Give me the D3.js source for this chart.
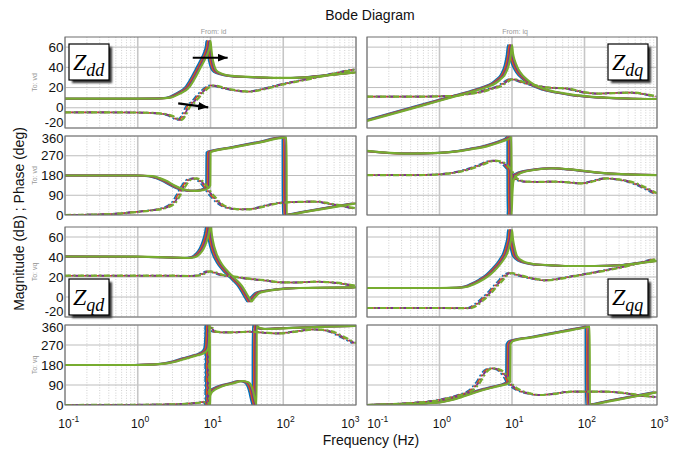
<!DOCTYPE html>
<html>
<head>
<meta charset="utf-8">
<script src="https://cdn.jsdelivr.net/npm/d3@7"></script>
<style>
  body { margin: 0; background: #fff; }
  svg { display: block; font-family: "Liberation Sans", Arial, Helvetica, sans-serif; }
</style>
</head>
<body>
<div id="vis"></div>
<script>
const FRAME_WIDTH = 681;
const FRAME_HEIGHT = 450;

// plot boxes (2 columns x 4 rows)
const COLS = [{left: 65, right: 356}, {left: 367, right: 657}];
const ROWS = [{top: 37, bottom: 128}, {top: 136, bottom: 215},
              {top: 227, bottom: 317}, {top: 325, bottom: 405}];

// ticks
const freqTicks = [0.1, 1, 10, 100, 1000];
const freqExp = ["-1", "0", "1", "2", "3"];
const magTicks = [-20, 0, 20, 40, 60];
const phaseTicks = [0, 90, 180, 270, 360];
const MAG_DOMAIN = [-20, 70];
const PHASE_DOMAIN = [0, 360];

// 4 overlaid systems, resonance moves a bit
const lineColors = ["#0072BD", "#D95319", "#7E2F8E", "#77AC30"];
const colorShift = [0.88, 0.92, 0.96, 1.0];

const inputLabels = ["From: id", "From: iq"];
const outputLabels = ["To: vd", "To: vd", "To: vq", "To: vq"];

// [Hz, dB] or [Hz, deg]; A = solid, B = dash-dot
const zddMagA = [[0.1, 9], [0.5, 9], [1, 9], [2, 9.2], [2.8, 10], [3.8, 14], [5.2, 21], [6.2, 30],
  [7.1, 38], [8.0, 45], [8.8, 51], [9.4, 56], [9.8, 61], [10, 66], [10.2, 60], [10.6, 50],
  [11.2, 42], [12, 37], [14, 34], [20, 31.5], [50, 30], [100, 29.5], [200, 30], [400, 32], [1000, 35]];
const zddMagB = [[0.1, -4.5], [1, -4.7], [2, -5.5], [3, -8], [3.6, -11], [4.0, -12], [4.5, -8],
  [5.2, 1], [6.2, 6], [7.1, 11], [8.0, 15], [8.8, 18], [9.8, 20.5], [10.8, 22], [12, 21.8],
  [15, 20], [20, 18], [35, 16], [60, 19], [100, 23], [200, 27.5], [500, 33.5], [1000, 38]];
const zddPhA = [[0.1, 180], [1, 180], [1.6, 177], [2.0, 168], [2.5, 155], [3.1, 137], [3.8, 123],
  [4.7, 114], [6, 110], [7.1, 111], [8.3, 115], [9.3, 122], [9.9, 135], [10.0, 285], [10.3, 288],
  [20, 307], [50, 332], [111, 354], [111.3, 0], [200, 14], [500, 36], [1000, 53]];
const zddPhB = [[0.1, 0], [0.5, 5], [0.86, 12], [1.5, 20], [2.5, 33], [3.0, 45], [3.4, 61],
  [3.8, 88], [4.2, 114], [4.7, 140], [5.2, 158], [6.4, 167], [7.3, 160], [7.85, 152], [8.6, 138],
  [9.3, 124], [10.2, 103], [11.5, 83], [13.5, 58], [16.6, 38], [20, 30], [25, 26], [33, 26],
  [43, 30], [60, 42], [100, 56], [180, 60], [285, 61], [480, 50], [1000, 30]];

const zdqMagA = [[0.1, -13], [0.3, -3.5], [1, 7], [2, 13], [3, 16.5], [4.5, 20.5], [6, 24.5],
  [6.9, 28], [8, 33], [9, 42], [9.6, 52], [10, 62], [10.3, 54], [11, 46], [11.7, 41], [13, 35],
  [16.3, 27.7], [20, 23], [30.5, 17.7], [50, 14.5], [71, 12.7], [120, 11], [205, 10], [400, 9.2], [1000, 8.7]];
const zdqMagB = [[0.1, 11], [0.5, 11], [1, 11.3], [1.73, 12], [2.5, 13.5], [4.07, 16], [5.5, 19],
  [6.9, 21], [8.5, 25], [10.4, 28.5], [12, 27.5], [16.2, 24.3], [22, 22], [30, 20.3], [45, 19.5],
  [60, 19], [80, 17], [110, 15], [164, 14], [250, 14.5], [470, 15], [700, 13.5], [1000, 11]];
const zdqPhA = [[0.1, 292], [0.35, 280], [1, 283], [2, 292], [2.9, 301], [4.5, 313], [6.2, 327],
  [8, 340], [9.0, 347], [9.6, 355], [9.8, 360], [9.82, 0], [10.1, 90], [10.4, 150], [11, 172],
  [13, 190], [20, 205], [37, 213], [70, 207], [120, 198], [205, 190], [1000, 182]];
const zdqPhB = [[0.1, 182], [0.5, 182], [1, 185], [2, 198], [2.9, 213], [4, 230], [5, 243],
  [5.8, 248], [6.8, 245], [8.0, 236], [9.4, 213], [10.5, 190], [11.7, 167], [13.5, 157], [16, 152],
  [25, 151], [37, 152], [60, 149], [97, 144], [140, 155], [205, 167], [300, 162], [435, 152],
  [700, 125], [1000, 99]];

const zqdMagA = [[0.1, 40.5], [1, 40.3], [3, 39.5], [5, 39], [6.2, 40], [7.1, 43], [8, 48],
  [8.8, 55], [9.4, 62], [9.8, 70], [10, 78], [10.3, 66], [10.8, 56], [12, 44], [14, 34],
  [16.6, 27], [22.7, 17], [27, 11], [31, 4], [34, -1], [36.5, -4.5], [39, -2], [47, 4], [60, 6],
  [80, 7.3], [170, 9], [1000, 9.6]];
const zqdMagB = [[0.1, 21.3], [1, 21.3], [3, 21.3], [5, 21], [7, 21.5], [8.5, 23.5], [9.9, 25.6],
  [12, 24.5], [15, 22], [20.3, 20.6], [38, 18], [60, 16.5], [100, 14.6], [160, 14.5], [285, 15.3],
  [500, 14.5], [800, 12.5], [1000, 11.3]];
const zqdPhA = [[0.1, 180], [1, 180], [1.6, 182], [2.5, 187], [3.5, 197], [4.7, 210], [6.2, 221],
  [7.9, 232], [8.8, 242], [9.3, 255], [9.6, 300], [9.75, 355], [9.8, 360], [9.82, 0], [9.9, 40],
  [10.2, 52], [10.9, 63], [13, 78], [16, 89], [20.3, 97], [25, 106], [28, 108], [32, 104],
  [34.7, 97], [37, 80], [39, 55], [40.5, 30], [42, 10], [43, 0], [43.1, 360], [45, 352], [50, 345],
  [58, 342], [100, 345], [170, 348], [400, 353], [1000, 356]];
const zqdPhB = [[0.1, 0], [1, 1], [3, 3], [5, 6], [7, 10], [7.9, 12], [8.8, 14], [9.4, 8],
  [9.6, 0], [9.62, 360], [9.9, 352], [10.9, 345], [12, 330], [15, 327], [20.3, 327], [30, 329],
  [34.7, 330], [50, 327], [90, 322], [150, 330], [285, 340], [400, 336], [480, 330], [700, 305],
  [1000, 278]];

const zqqMagA = [[0.1, 9], [1, 9], [1.93, 9.3], [2.5, 10.5], [2.9, 12.3], [4, 17.5], [5, 22.3],
  [6.2, 29], [7.6, 37], [8.6, 44], [9.3, 52], [9.8, 60], [10, 67], [10.3, 58], [10.8, 50],
  [11.7, 41], [14, 36], [19.7, 33], [40, 31.5], [71, 31], [150, 31], [350, 32], [600, 34], [1000, 36]];
const zqqMagB = [[0.1, -11], [1, -11], [2.6, -11.2], [3.0, -10], [3.5, -7], [4.06, -3], [5, 3],
  [6.2, 10.6], [7.3, 16], [8.5, 21.3], [10, 24], [12, 22.5], [16.1, 20], [22, 18], [30.4, 16.6],
  [45, 18], [71, 20.6], [120, 23.5], [204, 26.6], [400, 31], [1000, 38]];
const zqqPhA = [[0.1, 0], [0.3, 3], [1.02, 12], [2, 35], [2.9, 53], [4.5, 72], [6.5, 85],
  [9.0, 98], [9.4, 105], [9.5, 270], [9.7, 278], [10.4, 288], [20, 305.5], [50, 330], [114, 352],
  [118, 353], [118.3, 0], [200, 14], [400, 32.6], [1000, 57]];
const zqqPhB = [[0.1, 0], [0.3, 6], [1.02, 22], [2, 45], [2.9, 67], [3.6, 100], [4.5, 150],
  [5.5, 165], [6.5, 162], [7.6, 150], [8.6, 128], [9.5, 105], [11, 82], [13, 67], [18, 52],
  [24.4, 45], [35, 48], [71, 60], [204, 60], [400, 52], [730, 40], [1000, 36]];

// arrows in Zdd magnitude (Hz, dB)
const arrowFrom = [[5.7, 49.5], [3.6, 4.4]];
const arrowTo = [[17.2, 49.5], [9.3, 0.4]];

const PANELS = [
  {row: 0, col: 0, kind: "mag", solid: zddMagA, dash: zddMagB, name: "dd", corner: "tl"},
  {row: 1, col: 0, kind: "phase", solid: zddPhA, dash: zddPhB},
  {row: 0, col: 1, kind: "mag", solid: zdqMagA, dash: zdqMagB, name: "dq", corner: "tr"},
  {row: 1, col: 1, kind: "phase", solid: zdqPhA, dash: zdqPhB},
  {row: 2, col: 0, kind: "mag", solid: zqdMagA, dash: zqdMagB, name: "qd", corner: "bl"},
  {row: 3, col: 0, kind: "phase", solid: zqdPhA, dash: zqdPhB},
  {row: 2, col: 1, kind: "mag", solid: zqqMagA, dash: zqqMagB, name: "qq", corner: "br"},
  {row: 3, col: 1, kind: "phase", solid: zqqPhA, dash: zqqPhB}
];

const SVG = d3.select("#vis")
  .append("svg")
  .attr("width", FRAME_WIDTH)
  .attr("height", FRAME_HEIGHT);

const defs = SVG.append("defs");
defs.append("filter").attr("id", "shadow")
  .append("feGaussianBlur").attr("stdDeviation", 1.2);
defs.append("marker")
  .attr("id", "head")
  .attr("markerUnits", "userSpaceOnUse")
  .attr("viewBox", "0 0 10 8")
  .attr("refX", 10).attr("refY", 4)
  .attr("markerWidth", 10).attr("markerHeight", 8)
  .attr("orient", "auto")
  .append("path").attr("d", "M0,0 L10,4 L0,8 Z").attr("fill", "#000");

const X_SCALES = COLS.map(c => d3.scaleLog().domain([0.1, 1000]).range([c.left, c.right]));

// dash phase per colour: only purple peeks through the gaps of green
const dashOffset = [0, 0, 4.5, 0];
const dashWidth = [1.6, 1.6, 1.8, 2.2];

PANELS.forEach((p, pi) => {
  const col = COLS[p.col], row = ROWS[p.row];
  const x = X_SCALES[p.col];
  const y = d3.scaleLinear()
    .domain(p.kind === "mag" ? MAG_DOMAIN : PHASE_DOMAIN)
    .range([row.bottom, row.top]);
  const yTicks = p.kind === "mag" ? magTicks : phaseTicks;
  const w = col.right - col.left, h = row.bottom - row.top;

  const g = SVG.append("g");
  g.append("rect").attr("x", col.left).attr("y", row.top)
    .attr("width", w).attr("height", h).attr("fill", "#fff");

  defs.append("clipPath").attr("id", "clip" + pi)
    .append("rect").attr("x", col.left).attr("y", row.top).attr("width", w).attr("height", h);

  // grid
  const minor = x.ticks().filter(t => Math.abs(Math.log10(t) - Math.round(Math.log10(t))) > 1e-6);
  g.selectAll(".minor").data(minor).enter().append("line")
    .attr("x1", d => x(d)).attr("x2", d => x(d))
    .attr("y1", row.top).attr("y2", row.bottom)
    .attr("stroke", "#c4c4c4").attr("stroke-width", 0.8).attr("stroke-dasharray", "1,1.6");
  g.selectAll(".hgrid").data(yTicks).enter().append("line")
    .attr("x1", col.left).attr("x2", col.right)
    .attr("y1", d => y(d)).attr("y2", d => y(d))
    .attr("stroke", "#bdbdbd").attr("stroke-width", 1);
  g.selectAll(".vgrid").data(freqTicks).enter().append("line")
    .attr("x1", d => x(d)).attr("x2", d => x(d))
    .attr("y1", row.top).attr("y2", row.bottom)
    .attr("stroke", "#c6c6c6").attr("stroke-width", 1.6);

  // curves
  const lines = g.append("g").attr("clip-path", "url(#clip" + pi + ")");
  lineColors.forEach((c, i) => {
    const line = d3.line()
      .x(d => x(d[0] * colorShift[i]))
      .y(d => y(d[1]))
      .curve(d3.curveMonotoneX);
    lines.append("path").attr("d", line(p.solid))
      .attr("fill", "none").attr("stroke", c)
      .attr("stroke-width", i === 3 ? 2.2 : 2);
    lines.append("path").attr("d", line(p.dash))
      .attr("fill", "none").attr("stroke", c)
      .attr("stroke-width", dashWidth[i])
      .attr("stroke-dasharray", "6,2.5,2,2.5")
      .attr("stroke-dashoffset", dashOffset[i]);
  });

  g.append("rect").attr("x", col.left).attr("y", row.top)
    .attr("width", w).attr("height", h)
    .attr("fill", "none").attr("stroke", "#6e6e6e").attr("stroke-width", 1);

  // y tick labels on left column (-20 and 360 pushed apart where rows meet)
  if (p.col === 0) {
    g.selectAll(".ylab").data(yTicks).enter().append("text")
      .attr("x", col.left - 1.5)
      .attr("y", (d, i) => y(d) + (i === 0 && p.kind === "mag" ? -5 : 0) + (i === 4 && p.kind === "phase" ? 3 : 0))
      .attr("dy", "0.34em")
      .attr("text-anchor", "end").attr("fill", "#111")
      .attr("font-size", (d, i) => (i === 0 && p.kind === "mag") || (i === 4 && p.kind === "phase") ? 13 : 13.5)
      .text(d => d);
    g.append("text")
      .attr("transform", "translate(37," + (row.top + row.bottom) / 2 + ") rotate(-90)")
      .attr("text-anchor", "middle").attr("font-size", 7).attr("fill", "#999")
      .text(outputLabels[p.row]);
  }

  // x tick labels on bottom row
  if (p.row === 3) {
    const nudge = p.col === 0 ? [0, 0, 0, 0, -8] : [7, 0, 0, 0, 0];
    freqTicks.forEach((t, i) => {
      const txt = g.append("text")
        .attr("x", x(t) + nudge[i] - 6.7).attr("y", 428)
        .attr("font-size", 12).attr("fill", "#111");
      txt.append("tspan").text("10");
      txt.append("tspan").attr("dy", -6).attr("font-size", 8.5).text(freqExp[i]);
    });
  }

  if (p.row === 0) {
    g.append("text").attr("x", (col.left + col.right) / 2 + 3).attr("y", 33.5)
      .attr("text-anchor", "middle").attr("font-size", 7).attr("fill", "#999")
      .text(inputLabels[p.col]);
  }

  // arrows
  if (pi === 0) {
    arrowFrom.forEach((a, i) => {
      g.append("line")
        .attr("x1", x(a[0])).attr("y1", y(a[1]))
        .attr("x2", x(arrowTo[i][0])).attr("y2", y(arrowTo[i][1]))
        .attr("stroke", "#000").attr("stroke-width", 2.2)
        .attr("marker-end", "url(#head)");
    });
  }

  // Z label box
  if (p.name) {
    const bw = 40, bh = 36;
    const bx = p.corner[1] === "l" ? col.left + 4 : col.right - 49;
    const by = p.corner[0] === "t" ? row.top + 7 : row.bottom - 38;
    const box = SVG.append("g");
    box.append("rect").attr("x", bx + 3).attr("y", by + 3)
      .attr("width", bw).attr("height", bh)
      .attr("fill", "#333").attr("filter", "url(#shadow)");
    box.append("rect").attr("x", bx).attr("y", by)
      .attr("width", bw).attr("height", bh)
      .attr("fill", "#fff").attr("stroke", "#000").attr("stroke-width", 1.2);
    const zt = box.append("text").attr("x", bx + 4).attr("y", by + 26)
      .attr("font-family", "'Liberation Serif', 'Times New Roman', serif")
      .attr("font-style", "italic").attr("font-size", 24).attr("fill", "#000");
    zt.append("tspan").text("Z");
    zt.append("tspan").attr("dy", 6).attr("font-size", 18).text(p.name);
  }
});

SVG.append("text").attr("x", 370).attr("y", 20)
  .attr("text-anchor", "middle").attr("font-size", 14).attr("fill", "#111")
  .text("Bode Diagram");

SVG.append("text").attr("x", 371).attr("y", 445)
  .attr("text-anchor", "middle").attr("font-size", 14).attr("fill", "#111")
  .text("Frequency  (Hz)");

SVG.append("text")
  .attr("transform", "translate(24,219) rotate(-90)")
  .attr("text-anchor", "middle").attr("font-size", 14).attr("fill", "#111")
  .text("Magnitude (dB) ; Phase (deg)");
</script>
</body>
</html>
